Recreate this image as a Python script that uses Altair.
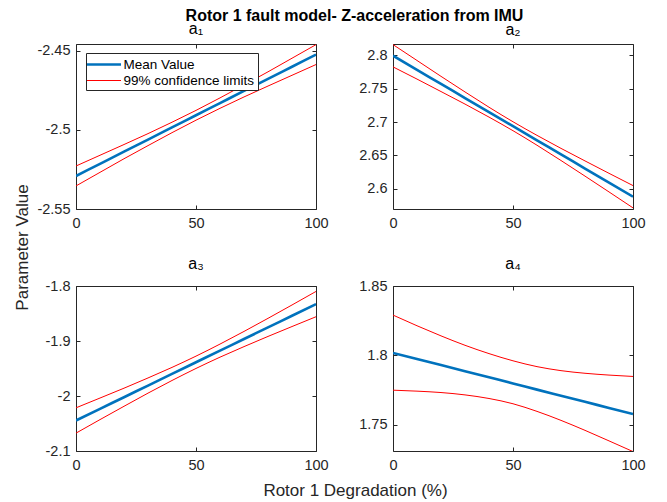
import altair as alt
import pandas as pd

# ---------------- data ----------------
x_pct = [0, 10, 20, 30, 40, 50, 60, 70, 80, 90, 100]

a1_mean = [-2.5291, -2.5214, -2.5137, -2.5061, -2.4984, -2.4907, -2.4830, -2.4753, -2.4677, -2.4600, -2.4523]
a1_upper = [-2.5228, -2.5160, -2.5092, -2.5023, -2.4951, -2.4876, -2.4797, -2.4715, -2.4632, -2.4546, -2.4460]
a1_lower = [-2.5354, -2.5268, -2.5182, -2.5099, -2.5017, -2.4938, -2.4863, -2.4791, -2.4722, -2.4654, -2.4586]

a2_mean = [2.7994, 2.7783, 2.7571, 2.7360, 2.7148, 2.6937, 2.6726, 2.6514, 2.6303, 2.6091, 2.5880]
a2_upper = [2.8161, 2.7923, 2.7685, 2.7451, 2.7222, 2.7004, 2.6800, 2.6605, 2.6417, 2.6231, 2.6047]
a2_lower = [2.7827, 2.7644, 2.7457, 2.7269, 2.7074, 2.6870, 2.6652, 2.6423, 2.6189, 2.5952, 2.5713]

a3_mean = [-2.0445, -2.0233, -2.0022, -1.9810, -1.9599, -1.9387, -1.9175, -1.8964, -1.8752, -1.8541, -1.8329]
a3_upper = [-2.0215, -2.0037, -1.9858, -1.9672, -1.9480, -1.9275, -1.9056, -1.8826, -1.8588, -1.8345, -1.8099]
a3_lower = [-2.0675, -2.0429, -2.0187, -1.9948, -1.9718, -1.9499, -1.9294, -1.9102, -1.8917, -1.8737, -1.8559]

a4_mean = [1.8017, 1.7973, 1.7929, 1.7885, 1.7841, 1.7797, 1.7752, 1.7708, 1.7664, 1.7620, 1.7576]
a4_upper = [1.8290, 1.8213, 1.8140, 1.8072, 1.8012, 1.7960, 1.7918, 1.7889, 1.7870, 1.7857, 1.7847]
a4_lower = [1.7748, 1.7741, 1.7731, 1.7714, 1.7688, 1.7650, 1.7595, 1.7530, 1.7458, 1.7382, 1.7305]

panel_titles = ["a\u2081", "a\u2082", "a\u2083", "a\u2084"]
y_domains = [[-2.55, -2.4456], [2.5696, 2.817], [-2.1, -1.8], [1.7309, 1.85]]
y_ticks = [[-2.55, -2.5, -2.45], [2.6, 2.65, 2.7, 2.75, 2.8], [-2.1, -2.0, -1.9, -1.8], [1.75, 1.8, 1.85]]
y_formats = [".2~f", ".2~f", ".1~f", ".2~f"]
x_ticks = [0, 50, 100]
series_kinds = ["Mean Value", "99% confidence limits"]
series_colors = ["#0072BD", "#FF0000"]

main_title = "Rotor 1 fault model- Z-acceleration from IMU"
y_label = "Parameter Value"
x_label = "Rotor 1 Degradation (%)"

FONT = "Liberation Sans"
AXC = "#262626"
W, H = 240, 165
MINUS_FIX = "replace(datum.label, '\u2212', '-')"


def panel(i, mean, upper, lower, show_legend=False, ytitle=None, xtitle=None):
    rows = []
    for name, kind, vals in [("mean", series_kinds[0], mean),
                             ("upper", series_kinds[1], upper),
                             ("lower", series_kinds[1], lower)]:
        for xv, yv in zip(x_pct, vals):
            rows.append({"x": xv, "y": yv, "line": name, "kind": kind})
    df = pd.DataFrame(rows)

    if show_legend:
        leg = alt.Legend(
            title=None, orient="none", legendX=10, legendY=9,
            symbolType="M-2.43,0L2.43,0", symbolSize=196, symbolOffset=6.5,
            labelFont=FONT, labelFontSize=13.5, labelColor="black", labelOffset=11,
            padding=3, rowPadding=2, strokeColor=AXC, fillColor="white",
        )
    else:
        leg = None

    yax_kw = dict(orient="left", values=y_ticks[i], format=y_formats[i], labelExpr=MINUS_FIX,
                  offset=-4, tickSize=4, domain=False, grid=False, labelPadding=6,
                  labelFlush=False)
    if ytitle:
        yax_kw.update(title=ytitle, titleX=-53, titleY=203, titleAngle=270,
                      titleBaseline="alphabetic", titleAlign="center")
    else:
        yax_kw.update(title=None)
    xax_kw = dict(orient="bottom", values=x_ticks, offset=-4, tickSize=4, domain=False, grid=False,
                  labelPadding=7, labelFlush=False)
    if xtitle:
        xax_kw.update(title=xtitle, titleX=279, titleY=48, titleBaseline="alphabetic",
                      titleAlign="center")
    else:
        xax_kw.update(title=None)

    xs = alt.Scale(domain=[0, 100], nice=False)
    ys = alt.Scale(domain=y_domains[i], nice=False, zero=False)

    lines = alt.Chart(df).mark_line(clip=True, interpolate="monotone").encode(
        x=alt.X("x:Q", scale=xs, axis=alt.Axis(**xax_kw)),
        y=alt.Y("y:Q", scale=ys, axis=alt.Axis(**yax_kw)),
        color=alt.Color("kind:N", scale=alt.Scale(type="ordinal", domain=series_kinds,
                                                  range=series_colors), legend=leg),
        strokeWidth=alt.StrokeWidth("kind:N", scale=alt.Scale(type="ordinal", domain=series_kinds,
                                                              range=[2.6, 1.0]), legend=leg),
        detail="line:N",
        order=alt.Order("x:Q"),
    )
    box_axes = alt.Chart(df).mark_line(opacity=0).encode(
        x=alt.X("x:Q", scale=xs, axis=alt.Axis(orient="top", values=x_ticks, offset=-4, tickSize=4,
                                               labels=False, domain=False, grid=False, title=None,
                                               minExtent=0, maxExtent=0)),
        y=alt.Y("y:Q", scale=ys, axis=alt.Axis(orient="right", values=y_ticks[i], offset=-4, tickSize=4,
                                               labels=False, domain=False, grid=False, title=None,
                                               minExtent=0, maxExtent=0)),
        detail="line:N",
    )
    return alt.layer(lines, box_axes).resolve_axis(x="independent", y="independent").properties(
        width=W, height=H,
        title=alt.TitleParams(panel_titles[i], font=FONT, fontSize=16, fontWeight="normal",
                              color="black", offset=-7, baseline="alphabetic"),
    )


p1 = panel(0, a1_mean, a1_upper, a1_lower, show_legend=True, ytitle=y_label)
p2 = panel(1, a2_mean, a2_upper, a2_lower)
p3 = panel(2, a3_mean, a3_upper, a3_lower, xtitle=x_label)
p4 = panel(3, a4_mean, a4_upper, a4_lower)

chart = alt.concat(p1, p2, p3, p4, columns=2, spacing=77, bounds="flush").resolve_scale(
    color="independent", strokeWidth="independent"
).resolve_legend(color="independent", strokeWidth="independent").properties(
    title=alt.TitleParams(main_title, font=FONT, fontSize=16, fontWeight="bold", color="black",
                          anchor="middle", frame="group", dx=278.5, dy=18, offset=1,
                          baseline="alphabetic"),
    autosize=alt.AutoSizeParams(type="none"),
    padding={"left": 68, "top": 36, "right": 583, "bottom": 458},
    background="white",
).configure_axis(
    labelFont=FONT, labelFontSize=14.5, labelColor=AXC, tickColor=AXC,
    titleFont=FONT, titleFontSize=17, titleColor=AXC, titleFontWeight="normal",
).configure_view(stroke=AXC, strokeWidth=1)

chart.save("out.html", embed_options={"renderer": "svg", "actions": False})
